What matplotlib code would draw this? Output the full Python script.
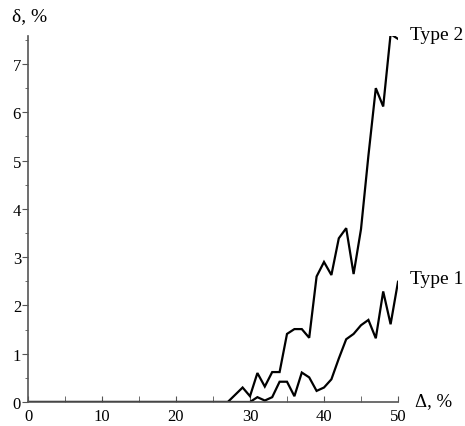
import matplotlib
matplotlib.use("Agg")
from matplotlib import pyplot as plt
from matplotlib.ticker import MultipleLocator

# Data (delta, % vs Delta, %)
x_vals = list(range(0, 51))
type1_tail = [0.0, 0.1, 0.03, 0.1, 0.42, 0.42, 0.12, 0.61, 0.51, 0.23,
              0.3, 0.47, 0.9, 1.3, 1.41, 1.59, 1.7, 1.32, 2.29, 1.61, 2.49]   # x = 30..50
type2_tail = [0.0, 0.15, 0.3, 0.12, 0.6, 0.32, 0.62, 0.62, 1.41, 1.51,
              1.51, 1.33, 2.6, 2.9, 2.63, 3.39, 3.6, 2.65, 3.58, 5.1,
              6.5, 6.12, 7.62, 7.52]                                            # x = 27..50
type1 = [0.0] * 30 + type1_tail
type2 = [0.0] * 27 + type2_tail

plt.rcParams['font.family'] = ['Liberation Serif', 'DejaVu Serif']

fig = plt.figure(figsize=(4.65, 4.27), dpi=100)
ax = fig.add_axes([28 / 465, 24 / 427, 370 / 465, 366 / 427])

ax.plot(x_vals, type1, color='black', lw=1.6, solid_joinstyle='miter')
ax.plot(x_vals, type2, color='black', lw=1.6, solid_joinstyle='miter')

ax.set_xlim(0, 50)
ax.set_ylim(0, 7.58)
ax.spines['top'].set_visible(False)
ax.spines['right'].set_visible(False)
for s in ('left', 'bottom'):
    ax.spines[s].set_color('#555555')
    ax.spines[s].set_linewidth(1.2)

ax.xaxis.set_major_locator(MultipleLocator(10))
ax.xaxis.set_minor_locator(MultipleLocator(5))
ax.yaxis.set_major_locator(MultipleLocator(1))
ax.yaxis.set_minor_locator(MultipleLocator(0.5))
ax.tick_params(axis='x', which='both', direction='in', length=4, color='#555555', labelsize=12, pad=4)
ax.tick_params(axis='y', which='major', direction='out', length=4, color='#555555', labelsize=12, pad=1)
ax.tick_params(axis='y', which='minor', direction='out', length=2, color='#555555')

fig.text(30 / 465, 1 - 17 / 427, "δ, %", ha='center', va='center', fontsize=14)
fig.text(415 / 465, 1 - 402 / 427, "Δ, %", ha='left', va='center', fontsize=13.5)
fig.text(410 / 465, 1 - 35 / 427, "Type 2", ha='left', va='center', fontsize=14)
fig.text(410 / 465, 1 - 280 / 427, "Type 1", ha='left', va='center', fontsize=14)

fig.savefig("out.png", dpi=100)
